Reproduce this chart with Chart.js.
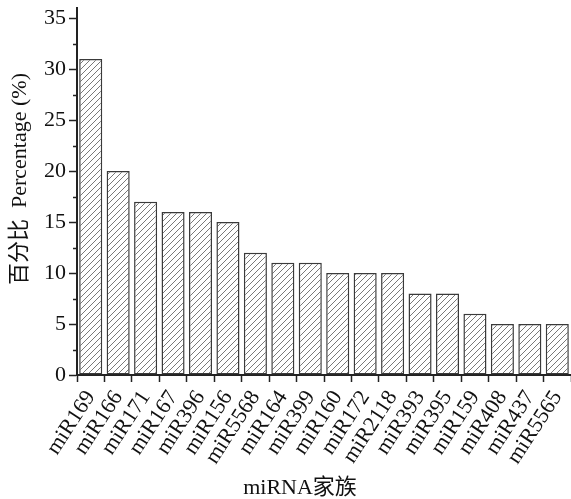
<!DOCTYPE html>
<html>
<head>
<meta charset="utf-8">
<script src="https://cdn.jsdelivr.net/npm/chart.js@4"></script>
<style>
html,body{margin:0;padding:0;background:#fff;}
#wrap{width:571px;height:499px;position:relative;}
</style>
</head>
<body>
<div id="wrap"><canvas id="c" width="571" height="499"></canvas></div>
<script>
const categories = ['miR169','miR166','miR171','miR167','miR396','miR156','miR5568','miR164','miR399','miR160','miR172','miR2118','miR393','miR395','miR159','miR408','miR437','miR5565'];
const percentages = [31,20,17,16,16,15,12,11,11,10,10,10,8,8,6,5,5,5];
const yMajorTicks = [0,5,10,15,20,25,30,35];
const yMinorTicks = [2.5,7.5,12.5,17.5,22.5,27.5,32.5];
const yTitle = '百分比  Percentage (%)';
const xTitle = 'miRNA家族';

const FONT = '"Liberation Serif", "Times New Roman", "Noto Sans CJK SC", serif';

function hatch(){
  const s = 6;
  const p = document.createElement('canvas');
  p.width = s; p.height = s;
  const g = p.getContext('2d');
  g.fillStyle = '#fff';
  g.fillRect(0,0,s,s);
  g.strokeStyle = '#6a6a6a';
  g.lineWidth = 0.9;
  g.beginPath();
  g.moveTo(0,s); g.lineTo(s,0);
  g.moveTo(-s/2,s/2); g.lineTo(s/2,-s/2);
  g.moveTo(s/2,s*1.5); g.lineTo(s*1.5,s/2);
  g.stroke();
  return g.createPattern(p,'repeat');
}

const extras = {
  id:'extras',
  afterDraw(chart){
    const ctx = chart.ctx;
    const y = chart.scales.y;
    const ca = chart.chartArea;
    ctx.save();
    ctx.strokeStyle = '#222';
    ctx.lineWidth = 1.5;
    ctx.beginPath();
    yMinorTicks.forEach(v=>{
      const py = Math.round(y.getPixelForValue(v))+0.5;
      ctx.moveTo(ca.left-4, py); ctx.lineTo(ca.left, py);
    });
    ctx.stroke();
    ctx.fillStyle = '#111';
    ctx.font = '22px ' + FONT;
    ctx.textAlign = 'center';
    ctx.textBaseline = 'middle';
    ctx.fillText(xTitle, 300, 488);
    ctx.translate(20, 179);
    ctx.rotate(-Math.PI/2);
    ctx.fillText(yTitle, 0, 0);
    ctx.restore();
  }
};

new Chart(document.getElementById('c'), {
  type:'bar',
  data:{
    labels: categories,
    datasets:[{
      data: percentages,
      backgroundColor: hatch(),
      borderColor:'#3a3a3a',
      borderWidth:1.5,
      borderSkipped:false,
      barPercentage:0.84,
      categoryPercentage:1.0
    }]
  },
  options:{
    responsive:false,
    animation:false,
    events:[],
    layout:{padding:{left:0,right:0,top:8,bottom:0}},
    plugins:{legend:{display:false},tooltip:{enabled:false}},
    scales:{
      x:{
        offset:true,
        grid:{display:true,drawOnChartArea:false,drawTicks:true,tickLength:7,tickColor:'#222',tickWidth:1.5},
        border:{display:true,color:'#222',width:2},
        ticks:{color:'#111',font:{family:FONT,size:22},maxRotation:57,minRotation:57,autoSkip:false,padding:4},
        afterFit(s){ s.height = 124; s.paddingRight = 0; s.paddingLeft = 0; }
      },
      y:{
        min:0,max:36,
        afterBuildTicks(s){ s.ticks = yMajorTicks.map(v=>({value:v})); },
        grid:{display:true,drawOnChartArea:false,drawTicks:true,tickLength:8,tickColor:'#222',tickWidth:1.5},
        border:{display:true,color:'#222',width:2},
        ticks:{color:'#111',font:{family:FONT,size:22},padding:3},
        afterFit(s){ s.width = 77; s.paddingTop = 0; s.paddingBottom = 0; }
      }
    }
  },
  plugins:[extras]
});
</script>
</body>
</html>
